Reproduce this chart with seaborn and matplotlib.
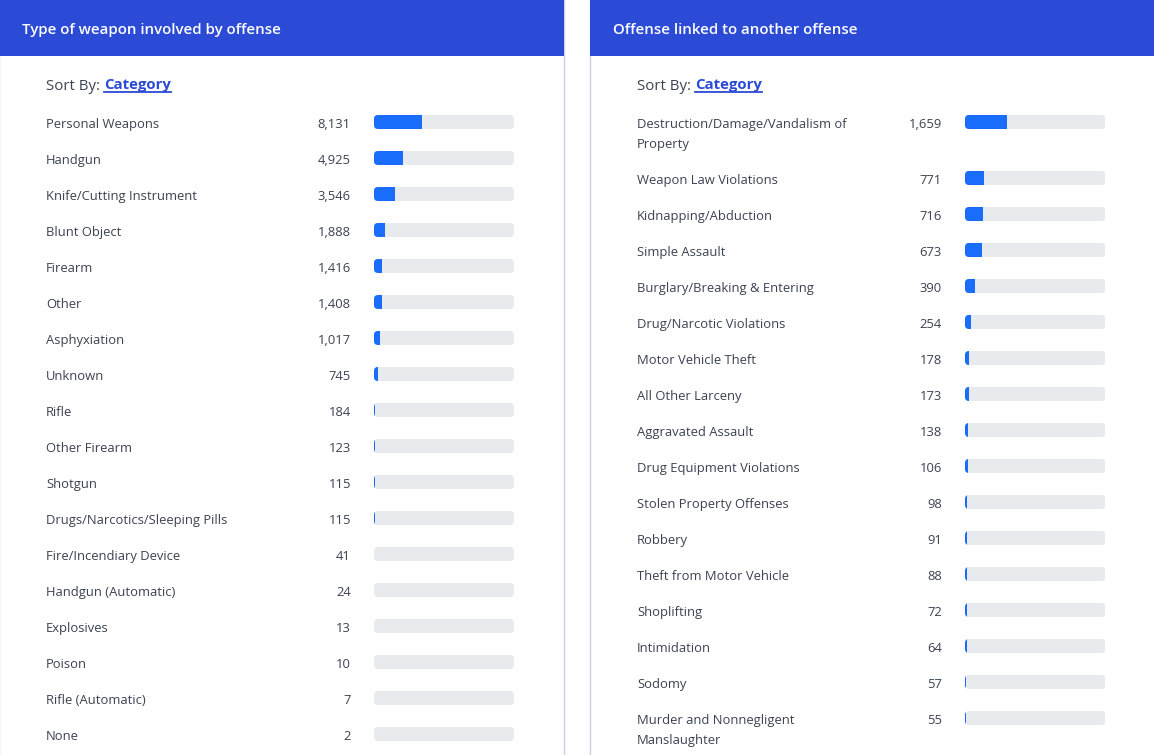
import numpy as np
import pandas as pd
import seaborn as sns
import matplotlib.pyplot as plt
from matplotlib.patches import FancyBboxPatch, Rectangle

# data
weapon_title = "Type of weapon involved by offense"
weapon_labels = ["Personal Weapons", "Handgun", "Knife/Cutting Instrument", "Blunt Object",
                 "Firearm", "Other", "Asphyxiation", "Unknown", "Rifle", "Other Firearm",
                 "Shotgun", "Drugs/Narcotics/Sleeping Pills", "Fire/Incendiary Device",
                 "Handgun (Automatic)", "Explosives", "Poison", "Rifle (Automatic)", "None"]
weapon_counts = [8131, 4925, 3546, 1888, 1416, 1408, 1017, 745, 184, 123,
                 115, 115, 41, 24, 13, 10, 7, 2]

offense_title = "Offense linked to another offense"
offense_labels = ["Destruction/Damage/Vandalism of\nProperty", "Weapon Law Violations",
                  "Kidnapping/Abduction", "Simple Assault", "Burglary/Breaking & Entering",
                  "Drug/Narcotic Violations", "Motor Vehicle Theft", "All Other Larceny",
                  "Aggravated Assault", "Drug Equipment Violations", "Stolen Property Offenses",
                  "Robbery", "Theft from Motor Vehicle", "Shoplifting", "Intimidation",
                  "Sodomy", "Murder and Nonnegligent\nManslaughter"]
offense_counts = [1659, 771, 716, 673, 390, 254, 178, 173, 138, 106, 98, 91, 88, 72, 64, 57, 55]

W, H = 1154, 755
HEADER = "#2b4ad6"
BLUE = "#1a6dfb"
TRACK = "#e8ebee"
TEXT = "#3b4252"
BORDER = "#c9d2e4"
plt.rcParams['font.family'] = ['Open Sans', 'DejaVu Sans']

fig = plt.figure(figsize=(W / 100, H / 100), dpi=100)
bg = fig.add_axes([0, 0, 1, 1])
bg.set_xlim(0, W)
bg.set_ylim(H, 0)
bg.axis('off')


def panel(x0, x1, title, labels, counts):
    # card + header
    bg.add_patch(Rectangle((x0, -2), x1 - x0, H + 4, facecolor='white', edgecolor=BORDER, lw=1))
    bg.add_patch(Rectangle((x0, -2), x1 - x0, 58, facecolor=HEADER, edgecolor='none'))
    bg.text(x0 + 23, 28.5, title, color='white', fontsize=10.8, fontweight='semibold',
            va='center_baseline')
    t1 = bg.text(x0 + 47, 84, "Sort By:", color=TEXT, fontsize=10.8, va='center_baseline')
    fig.canvas.draw()
    bb = t1.get_window_extent()
    t2 = bg.text(x0 + 47 + bb.width + 4, 84, "Category", color=HEADER, fontsize=10.8,
                 fontweight='bold', va='center_baseline')
    fig.canvas.draw()
    bb2 = t2.get_window_extent()
    bg.plot([bb2.x0, bb2.x1], [H - bb2.y0 - 1, H - bb2.y0 - 1], color=HEADER, lw=1.3)

    # row positions: 36px per row, 20px per extra text line
    ys, y = [], 122
    for lab in labels:
        ys.append(y)
        y += 36 + 20 * lab.count("\n")
    df = pd.DataFrame({"label": labels, "count": counts, "y": ys})
    df["share"] = df["count"] / df["count"].sum()
    df["full"] = 1.0

    for _, r in df.iterrows():
        for i, line in enumerate(r["label"].split("\n")):
            bg.text(x0 + 47, r["y"] + 20 * i + 1, line, color=TEXT, fontsize=9.4,
                    va='center_baseline')
        bg.text(x0 + 352, r["y"] + 1, f"{r['count']:,}", color=TEXT, fontsize=9.4,
                va='center_baseline', ha='right')

    ax = fig.add_axes([(x0 + 375) / W, 0, 140 / W, 1])
    wid = 14 / np.diff(sorted(ys)).min()
    sns.barplot(data=df, x="full", y="y", orient='h', native_scale=True, width=wid,
                color=TRACK, saturation=1, errorbar=None, linewidth=0, ax=ax)
    n = len(df)
    tracks = []
    for p in list(ax.patches[:n]):
        bx, by, bw, bh = p.get_x(), p.get_y(), p.get_width(), p.get_height()
        p.remove()
        fb = FancyBboxPatch((bx, by), bw, bh, boxstyle=f"round,pad=0,rounding_size={4 / 140}",
                            mutation_aspect=140, facecolor=TRACK, edgecolor='none')
        ax.add_patch(fb)
        tracks.append(fb)
    sns.barplot(data=df, x="share", y="y", orient='h', native_scale=True, width=wid,
                color=BLUE, saturation=1, errorbar=None, linewidth=0, ax=ax)
    for p, fb in zip([q for q in ax.patches if q not in tracks], tracks):
        p.set_clip_path(fb)
    ax.set_xlim(0, 1)
    ax.set_ylim(H, 0)
    ax.axis('off')


panel(-1, 564, weapon_title, weapon_labels, weapon_counts)
panel(590, W + 5, offense_title, offense_labels, offense_counts)

fig.savefig("out.png", dpi=100, facecolor='white')
